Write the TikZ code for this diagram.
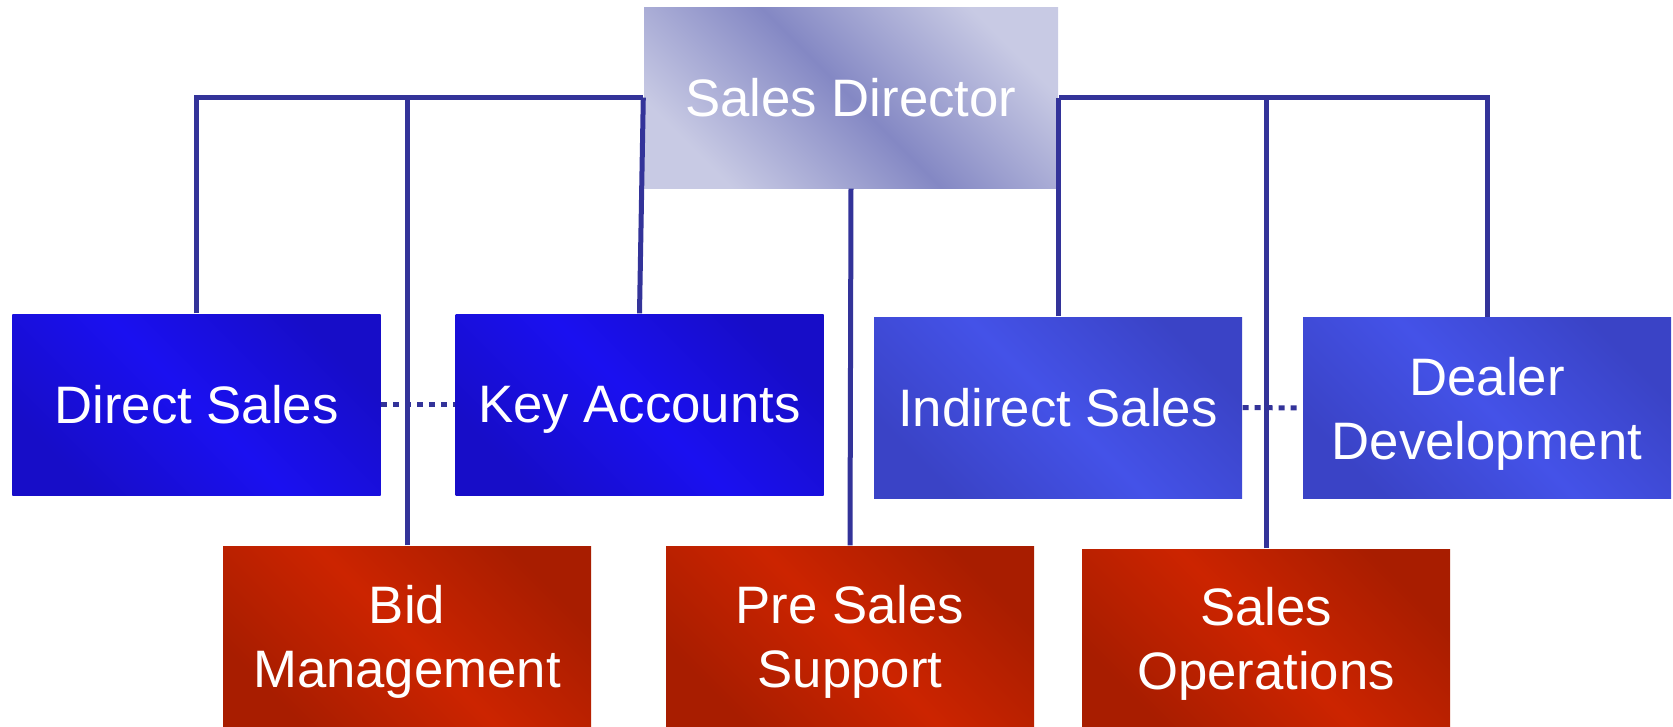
\documentclass[tikz,border=0pt]{standalone}
\usepackage{fontspec}
\setmainfont{Liberation Sans}

\definecolor{linkblue}{HTML}{333399}
\definecolor{headmid}{HTML}{8488C4}
\definecolor{headedge}{HTML}{C8CAE4}
\definecolor{directmid}{HTML}{1A10F0}
\definecolor{directedge}{HTML}{170DC8}
\definecolor{indirectmid}{HTML}{4452E8}
\definecolor{indirectedge}{HTML}{3A43C6}
\definecolor{supportmid}{HTML}{CC2400}
\definecolor{supportedge}{HTML}{A81D00}

\begin{document}
\begin{tikzpicture}[
  box/.style={rectangle, inner sep=0pt, minimum width=3.68cm, minimum height=1.81cm,
    text=white, align=center, text depth=0pt, font=\fontsize{15}{18.2}\selectfont},
  headbox/.style={box, minimum width=4.14cm,
    top color=headedge, bottom color=headedge, middle color=headmid, shading angle=-45},
  directbox/.style={box,
    top color=directedge, bottom color=directedge, middle color=directmid, shading angle=-45},
  indirectbox/.style={box,
    top color=indirectedge, bottom color=indirectedge, middle color=indirectmid, shading angle=-45},
  supportbox/.style={box,
    top color=supportedge, bottom color=supportedge, middle color=supportmid, shading angle=-45},
  link/.style={draw=linkblue, line width=0.05cm},
  dotlink/.style={link, dash pattern=on 0.06cm off 0.06cm}
]
  \useasboundingbox (0,0) rectangle (16.73,-7.27);

  % head
  \node[headbox] (director) at (8.51,-0.975) {Sales Director};

  % sales channels
  \node[directbox] (direct) at (1.965,-4.045) {Direct Sales};
  \node[directbox] (key) at (6.395,-4.045) {Key Accounts};
  \node[indirectbox] (indirect) at (10.58,-4.075) {Indirect Sales};
  \node[indirectbox] (dealer) at (14.87,-4.08) {Dealer\\Development};

  % support functions
  \node[supportbox] (bid) at (4.07,-6.365) {Bid\\Management};
  \node[supportbox] (presales) at (8.50,-6.365) {Pre Sales\\Support};
  \node[supportbox, minimum height=1.78cm] (ops) at (12.66,-6.38) {Sales\\Operations};

  % dotted links
  \draw[dotlink] (direct.east) -- (key.west);
  \draw[dotlink] (indirect.east) -- (dealer.west);

  % reporting lines
  \draw[link] (direct.north) |- (director.west);
  \draw[link] (bid.north) -- (bid.north |- director.west);
  \draw[link] (director.west) -- (key.north);
  \draw[link] (director.south) -- (presales.north);
  \draw[link] (dealer.north) |- (director.east);
  \draw[link] (indirect.north) -- (indirect.north |- director.east);
  \draw[link] (ops.north) -- (ops.north |- director.east);
\end{tikzpicture}
\end{document}
